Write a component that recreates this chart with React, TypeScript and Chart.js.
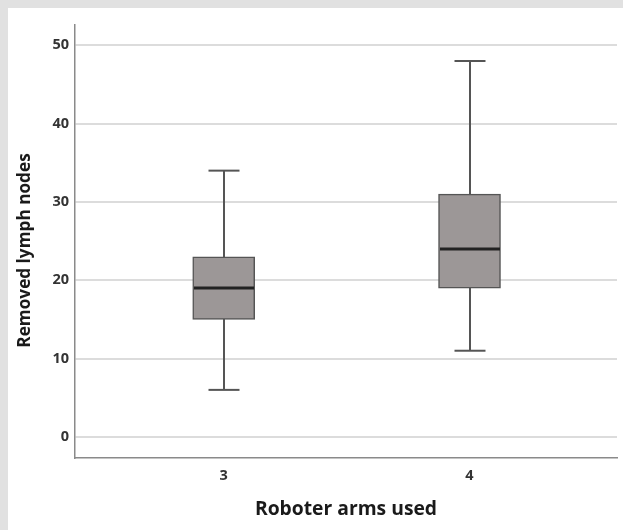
import React, { useEffect, useRef } from "react";
import { Chart, registerables } from "chart.js";

Chart.register(...registerables);

const categories = [3, 4];
const whiskerLow = [6, 11];
const q1 = [15, 19];
const median = [19, 24];
const q3 = [23, 31];
const whiskerHigh = [34, 48];
const yTicks = [0, 10, 20, 30, 40, 50];
const yTitle = "Removed lymph nodes";
const xTitle = "Roboter arms used";

const FONT = "'Open Sans', 'DejaVu Sans', sans-serif";

const boxPlugin = {
  id: "boxWhiskers",
  beforeDatasetsDraw(chart: any) {
    const { ctx, scales } = chart;
    const x = scales.x, y = scales.y;
    ctx.save();
    ctx.strokeStyle = "#555555";
    ctx.lineWidth = 2;
    categories.forEach((c, i) => {
      const px = Math.round(x.getPixelForValue(c));
      ctx.beginPath();
      ctx.moveTo(px, y.getPixelForValue(whiskerLow[i]));
      ctx.lineTo(px, y.getPixelForValue(whiskerHigh[i]));
      ctx.stroke();
    });
    ctx.restore();
  },
  afterDatasetsDraw(chart: any) {
    const { ctx, scales } = chart;
    const x = scales.x, y = scales.y;
    ctx.save();
    categories.forEach((c, i) => {
      const px = Math.round(x.getPixelForValue(c));
      ctx.strokeStyle = "#555555";
      ctx.lineWidth = 2;
      [whiskerLow[i], whiskerHigh[i]].forEach((v) => {
        const py = y.getPixelForValue(v);
        ctx.beginPath();
        ctx.moveTo(px - 15.5, py);
        ctx.lineTo(px + 15.5, py);
        ctx.stroke();
      });
      ctx.strokeStyle = "#222222";
      ctx.lineWidth = 3;
      const my = y.getPixelForValue(median[i]);
      ctx.beginPath();
      ctx.moveTo(px - 30, my);
      ctx.lineTo(px + 30, my);
      ctx.stroke();
    });
    ctx.restore();
  },
  afterDraw(chart: any) {
    const { ctx, chartArea } = chart;
    ctx.save();
    ctx.translate(17, (chartArea.top + chartArea.bottom) / 2 + 9);
    ctx.rotate(-Math.PI / 2);
    ctx.fillStyle = "#1a1a1a";
    ctx.font = `bold 17.2px ${FONT}`;
    ctx.textAlign = "center";
    ctx.textBaseline = "middle";
    ctx.fillText(yTitle, 0, 0);
    ctx.restore();
  },
};

export default function App() {
  const ref = useRef<HTMLCanvasElement>(null);
  useEffect(() => {
    document.body.style.background = "#e1e1e1";
    document.body.style.margin = "8px 0 0 8px";
    const chart = new Chart(ref.current!, {
      type: "bar",
      data: {
        datasets: [
          {
            data: categories.map((c, i) => ({ x: c, y: [q1[i], q3[i]] })) as any,
            backgroundColor: "#9c9797",
            borderColor: "#555555",
            borderWidth: 1.5,
            borderSkipped: false,
            barThickness: 62,
          },
        ],
      },
      options: {
        animation: false,
        responsive: false,
        maintainAspectRatio: false,
        layout: { padding: { top: 17, right: 6, left: 0, bottom: 0 } },
        plugins: { legend: { display: false }, tooltip: { enabled: false } },
        scales: {
          x: {
            type: "linear",
            min: 2.395,
            max: 4.6,
            offset: false,
            afterBuildTicks: (s: any) => {
              s.ticks = categories.map((v) => ({ value: v }));
            },
            afterFit: (s: any) => {
              s.height = 72;
            },
            grid: { display: false, drawTicks: false },
            border: { display: true, color: "#8a8a8a", width: 1.5 },
            ticks: {
              padding: 9,
              color: "#333333",
              font: { family: FONT, size: 14.5, weight: "bold" },
              callback: (v: any) => String(v),
            },
            title: {
              display: true,
              text: xTitle,
              color: "#1a1a1a",
              font: { family: FONT, size: 19.3, weight: "bold" },
              padding: { top: 0, bottom: 9 },
            },
          },
          y: {
            type: "linear",
            min: -2.7,
            max: 52.6,
            afterBuildTicks: (s: any) => {
              s.ticks = yTicks.map((v) => ({ value: v }));
            },
            afterFit: (s: any) => {
              s.width = 67;
            },
            grid: { color: "#dcdcdc", lineWidth: 2, drawTicks: false },
            border: { display: true, color: "#8a8a8a", width: 1.5 },
            ticks: {
              padding: 6,
              color: "#333333",
              font: { family: FONT, size: 14.5, weight: "bold" },
            },
            title: { display: false },
          },
        },
      },
      plugins: [boxPlugin],
    });
    return () => chart.destroy();
  }, []);
  return (
    <div style={{ width: 615, height: 522, background: "#ffffff" }}>
      <canvas ref={ref} width={615} height={522} style={{ display: "block" }} />
    </div>
  );
}
